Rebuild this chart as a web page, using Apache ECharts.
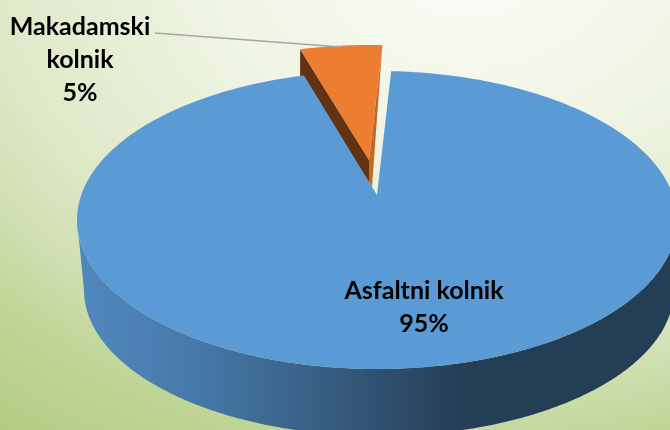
<!DOCTYPE html>
<html><head><meta charset="utf-8">
<style>html,body{margin:0;padding:0;background:#fff}
#c{width:670px;height:430px;background:radial-gradient(700px 520px at 70% -10%,#fbfcf8 0%,#f0f5e5 35%,#dfe9c8 67%,#d0dfb1 82%,#bfd596 95%,#b1cb80 115%)}</style>
<script src="https://cdn.jsdelivr.net/npm/echarts@6/dist/echarts.min.js"></script>
</head><body><div id="c"></div>
<script>
const categories = ['Asfaltni kolnik', 'Makadamski kolnik'];
const values = [95, 5];
const percentLabels = ['95%', '5%'];

const chart = echarts.init(document.getElementById('c'), null, {renderer:'canvas'});
const total = values.reduce((a,b)=>a+b,0);
const START = 2.9, E = 0.07;
const body = {cx:377, cy:220, rx:300, ry:149, ax:377, ay:195, bx:379, by:290, brx:295, bry:146};
const wedge = {cx:369, cy:185, rx:283, ry:140, ax:369, ay:160};
function screenAngle(deg){ // perspective: circle angle (clockwise from top) -> ellipse parameter
  const th = deg*Math.PI/180, d = 1+E*Math.cos(th);
  return Math.atan2(Math.sqrt(1-E*E)*Math.sin(th)/d, (Math.cos(th)+E)/d);
}
function arc(g, a0, a1, n){
  const pts=[];
  for(let i=0;i<=n;i++){const t=a0+(a1-a0)*i/n; pts.push([g.cx+g.rx*Math.sin(t), g.cy-g.ry*Math.cos(t)]);}
  return pts;
}
function renderItem(params, api){
  const i = params.dataIndex;
  let before = 0; for(let k=0;k<i;k++) before += values[k];
  const val = api.value(0);
  const d0 = START + before/total*360, d1 = d0 + val/total*360;
  const a0 = screenAngle(d0);
  let a1 = screenAngle(d1); while(a1<a0) a1 += 2*Math.PI;
  const kids=[];
  if(i===0){
    const top = arc(body, Math.PI/2, 3*Math.PI/2, 200);
    const bot = arc({cx:body.bx,cy:body.by,rx:body.brx,ry:body.bry}, 3*Math.PI/2, Math.PI/2, 200);
    kids.push({type:'polygon', z2:0, shape:{points:top.concat(bot)}, style:{
      fill:new echarts.graphic.LinearGradient(84,0,460,0,[
        {offset:0,color:'#5088bd'},{offset:0.3,color:'#4679a9'},{offset:0.65,color:'#375c80'},{offset:1,color:'#243e56'}],true)}});
    const face = [[body.ax,body.ay]].concat(arc(body,a0,a1,300));
    kids.push({type:'polygon', z2:5, shape:{points:face}, style:{fill:'#5b9bd5'}});
    kids.push({type:'text', z2:8, style:{text:categories[0]+'\n'+percentLabels[0], x:424, y:307, align:'center', verticalAlign:'middle',
      font:'bold 25px Lato', lineHeight:33, fill:'#000'}});
  } else {
    const w=wedge, p=arc(w,a0,a1,30), L=p[0], R=p[p.length-1];
    const tip=[w.ax,w.ay], low=[tip[0],tip[1]+22], end=[tip[0]+3,tip[1]+27];
    kids.push({type:'polygon', z2:1, shape:{points:[L,tip,low,[L[0],L[1]+32]]}, style:{fill:'#633213'}});
    kids.push({type:'polygon', z2:1, shape:{points:[R,tip,low,end]}, style:{fill:'#c5692a'}});
    kids.push({type:'polygon', z2:2, shape:{points:[tip].concat(p)}, style:{fill:'#ed7d31'}});
    kids.push({type:'polyline', z2:7, shape:{points:[[155,33],[341,47]]}, style:{stroke:'#a6a6a6',lineWidth:1.6,fill:null}});
    kids.push({type:'text', z2:8, style:{text:'Makadamski\nkolnik\n'+percentLabels[1], x:80, y:60, align:'center', verticalAlign:'middle',
      font:'bold 25px Lato', lineHeight:33, fill:'#000'}});
  }
  return {type:'group', children:kids};
}
chart.setOption({
  animation:false,
  backgroundColor:'transparent',
  series:[{type:'custom', coordinateSystem:'none', renderItem, silent:true, clip:false,
    data:values.map((v,i)=>({name:categories[i], value:[v]}))}]
});
</script></body></html>
